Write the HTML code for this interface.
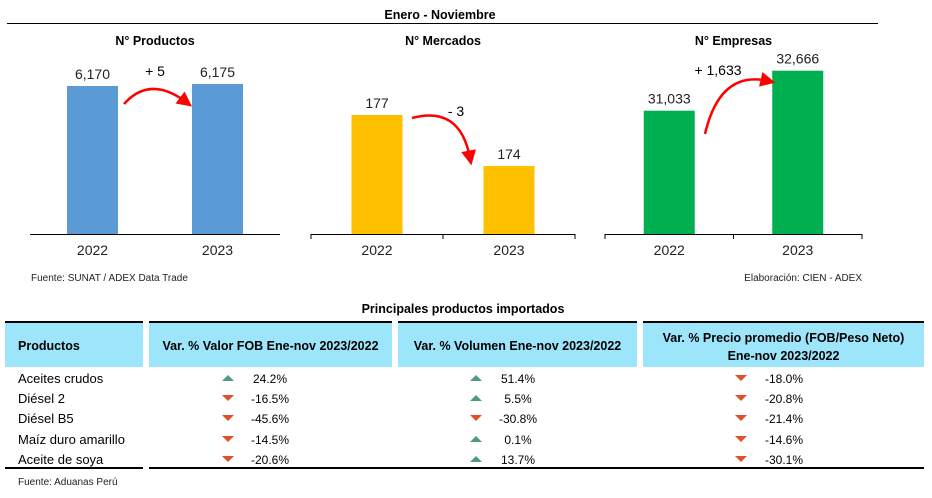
<!DOCTYPE html>
<html><head><meta charset="utf-8"><style>
body{margin:0;background:#fff;}
svg{display:block;font-family:"Liberation Sans",Arial,sans-serif;}
</style></head><body>
<svg id="root" width="932" height="498" viewBox="0 0 932 498">
<defs><marker id="ah" markerWidth="6" markerHeight="6" refX="3" refY="3" orient="auto"><path d="M0,0 L6,3 L0,6 Z" fill="#f00"/></marker></defs>
<text x="440" y="19" text-anchor="middle" font-size="12.5" font-weight="bold">Enero - Noviembre</text>
<line x1="7" y1="23.5" x2="878" y2="23.5" stroke="#000" stroke-width="1"/>
<g id="charts"></g>
<path d="M124,104 Q150,75 186,102" fill="none" stroke="#f00" stroke-width="2.5" marker-end="url(#ah)"/>
<text x="155" y="76" text-anchor="middle" font-size="14">+ 5</text>
<path d="M412,118 Q460,105 470,158" fill="none" stroke="#f00" stroke-width="2.5" marker-end="url(#ah)"/>
<text x="456" y="116" text-anchor="middle" font-size="14">- 3</text>
<path d="M705,134 Q720,70 768,81" fill="none" stroke="#f00" stroke-width="2.5" marker-end="url(#ah)"/>
<text x="718" y="75" text-anchor="middle" font-size="14">+ 1,633</text>
<text x="31" y="281" font-size="10" fill="#222">Fuente: SUNAT / ADEX Data Trade</text>
<text x="862" y="281" text-anchor="end" font-size="10" fill="#222">Elaboración: CIEN - ADEX</text>
<text x="463" y="313" text-anchor="middle" font-size="12.5" font-weight="bold">Principales productos importados</text>
<g id="table"></g>
<text x="18" y="485" font-size="10" fill="#222">Fuente: Aduanas Perú</text>
</svg>
<script>
const chartTitles=["N° Productos","N° Mercados","N° Empresas"];
const years=["2022","2023"];
const productosVals=[6170,6175];
const mercadosVals=[177,174];
const empresasVals=[31033,32666];
const valueLabels=[["6,170","6,175"],["177","174"],["31,033","32,666"]];
const axisMins=[5800,170,26000];
const NS="http://www.w3.org/2000/svg";
function mk(tag,attrs,parent){const e=document.createElementNS(NS,tag);for(const k in attrs)e.setAttribute(k,attrs[k]);parent.appendChild(e);return e;}
const cfg=[{x0:30,x1:280,c:"#5b9bd5",ticks:false,key:"productos",scale:0.4},
{x0:311,x1:575,c:"#ffc000",ticks:true,key:"mercados",scale:17},
{x0:605,x1:862,c:"#00b050",ticks:true,key:"empresas",scale:0.0245}];
const allVals=[productosVals,mercadosVals,empresasVals];
const g=document.getElementById('charts');
const base=234;
cfg.forEach((c,i)=>{
  const w=c.x1-c.x0, band=w/2;
  const yS=v=>base-(v-axisMins[i])*c.scale;
  const t=mk('text',{x:(c.x0+c.x1)/2,y:45,'text-anchor':'middle','font-size':'12.5','font-weight':'bold'},g);
  t.textContent=chartTitles[i];
  
  
  allVals[i].forEach((v,j)=>{
    const cx=c.x0+band*(j+0.5), bw=51;
    const y=yS(v);
    const r=mk('rect',{x:cx-bw/2,y:y,width:bw,height:base-y,fill:c.c},g);
    
    
    const l=mk('text',{x:cx,y:y-7,'text-anchor':'middle','font-size':'14',fill:'#222'},g);
    l.textContent=valueLabels[i][j];
    
    
    const xl=mk('text',{x:cx,y:255,'text-anchor':'middle','font-size':'14',fill:'#222'},g);
    xl.textContent=years[j];
    
    
  });
  const ax=mk('line',{x1:c.x0,y1:base+0.5,x2:c.x1,y2:base+0.5,stroke:'#000','stroke-width':1},g);
  
  
  if(c.ticks){[0,1,2].forEach(k=>{const tk=mk('line',{x1:c.x0+band*k,y1:base,x2:c.x0+band*k,y2:base+5,stroke:'#000'},g);
    
    });}
});
// table
const products=["Aceites crudos","Diésel 2","Diésel B5","Maíz duro amarillo","Aceite de soya"];
const fobVar=[24.2,-16.5,-45.6,-14.5,-20.6];
const volVar=[51.4,5.5,-30.8,0.1,13.7];
const priceVar=[-18.0,-20.8,-21.4,-14.6,-30.1];
const tb=document.getElementById('table');
const cols=[[5,143],[149,392],[398,637],[643,924]];
const headers=[["Productos"],["Var. % Valor FOB Ene-nov 2023/2022"],["Var. % Volumen Ene-nov 2023/2022"],["Var. % Precio promedio (FOB/Peso Neto)","Ene-nov 2023/2022"]];
cols.forEach((c,i)=>{
  const h=mk('rect',{x:c[0],y:323,width:c[1]-c[0],height:44,fill:'#9de5fb'},tb);
  
  
  const tl=mk('line',{x1:c[0],y1:322,x2:c[1],y2:322,stroke:'#000','stroke-width':2},tb);
  
  
  const bl=mk('line',{x1:c[0],y1:468,x2:i==3?c[1]:cols[i][1]+(i>0?6:0),y2:468,stroke:'#000','stroke-width':2},tb);
  
  
  headers[i].forEach((s,k)=>{
    const ht=mk('text',{x:i==0?18:(c[0]+c[1])/2,y:headers[i].length==1?350:342+k*18,'text-anchor':i==0?'start':'middle','font-size':'12.5','font-weight':'bold'},tb);
    ht.textContent=s;
    
    
  });
});
const rowY=[383,403,423,444,464];
const numCols=[[fobVar,228,270],[volVar,476,518],[priceVar,741,784]];
products.forEach((p,r)=>{
  const t=mk('text',{x:18,y:rowY[r],'font-size':'13'},tb);
  t.textContent=p;
  
  
  numCols.forEach((nc,ci)=>{
    const v=nc[0][r], tx=nc[1], cy=rowY[r]-5;
    const pts=v>=0?`${tx-6},${cy+3} ${tx+6},${cy+3} ${tx},${cy-3}`:`${tx-6},${cy-3} ${tx+6},${cy-3} ${tx},${cy+3}`;
    const tri=mk('polygon',{points:pts,fill:v>=0?'#4e9a7a':'#e0502b'},tb);
    
    
    const vt=mk('text',{x:nc[2],y:rowY[r],'text-anchor':'middle','font-size':'12'},tb);
    vt.textContent=v.toFixed(1)+'%';
    
    
  });
});
</script>
</body></html>
